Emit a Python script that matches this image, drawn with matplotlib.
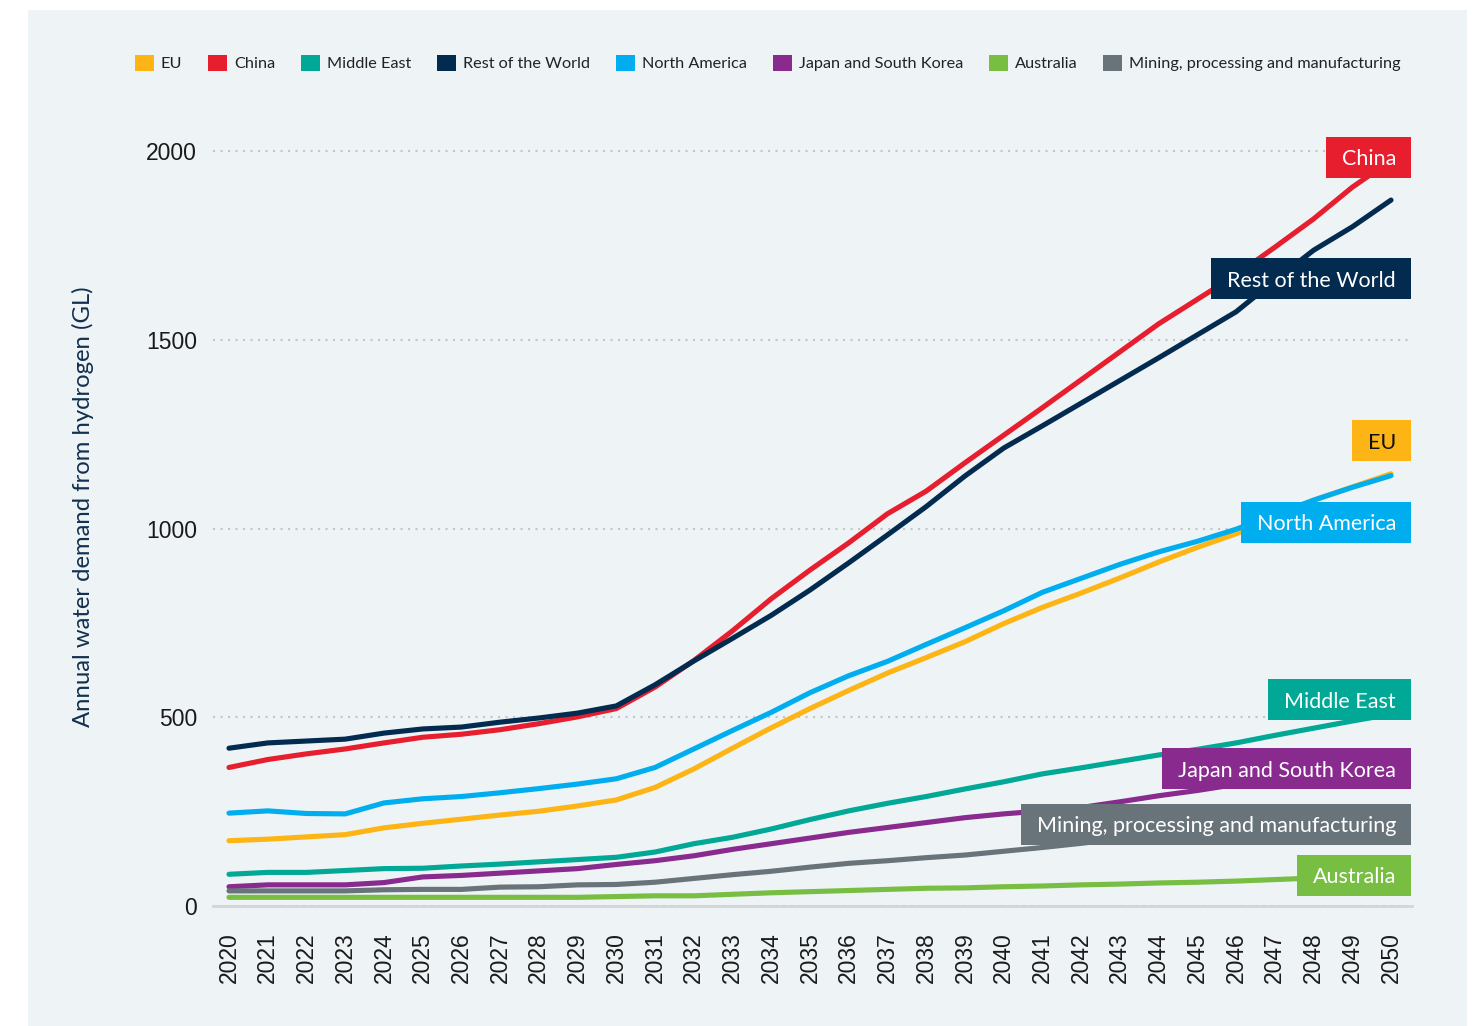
import matplotlib
matplotlib.use("Agg")
import matplotlib.pyplot as plt
from matplotlib.patches import Rectangle, Patch

# ---- data (GL per year) ----
years = list(range(2020, 2051))

eu = [173, 177, 183, 189, 207, 219, 230, 241, 251, 265, 281, 314, 363, 418, 472, 523,
      571, 617, 658, 700, 748, 791, 829, 869, 911, 950, 986, 1030, 1075, 1110, 1145]
china = [367, 388, 403, 416, 432, 447, 455, 467, 483, 501, 523, 580, 650, 729, 814, 890,
         962, 1039, 1099, 1174, 1247, 1320, 1394, 1468, 1542, 1607, 1672, 1745, 1820, 1904, 1975]
middle_east = [84, 89, 89, 94, 99, 100, 106, 111, 117, 123, 129, 143, 165, 182, 204, 229,
               252, 272, 290, 310, 329, 350, 366, 383, 400, 415, 432, 452, 471, 490, 508]
rest_of_world = [418, 432, 437, 442, 458, 469, 474, 487, 498, 511, 530, 586, 649, 709, 770, 837,
                 909, 983, 1058, 1139, 1213, 1272, 1332, 1392, 1452, 1513, 1574, 1657, 1737, 1799, 1870]
north_america = [246, 252, 245, 244, 273, 284, 290, 300, 311, 323, 337, 367, 416, 465, 513, 565,
                 610, 648, 693, 737, 782, 831, 868, 905, 938, 966, 998, 1037, 1075, 1109, 1140]
japan_korea = [51, 56, 56, 56, 62, 77, 81, 87, 93, 99, 110, 120, 133, 150, 165, 180,
               195, 208, 221, 234, 244, 252, 261, 276, 292, 306, 322, 340, 358, 378, 398]
australia = [23, 23, 23, 23, 23, 23, 23, 23, 23, 23, 25, 27, 27, 31, 35, 38,
             41, 44, 47, 48, 51, 53, 56, 58, 61, 63, 66, 70, 74, 78, 82]
mining = [40, 40, 40, 40, 43, 44, 44, 50, 51, 56, 57, 63, 73, 83, 92, 103,
          113, 120, 128, 135, 145, 155, 166, 178, 190, 202, 214, 226, 238, 250, 262]

names = ["EU", "China", "Middle East", "Rest of the World", "North America",
         "Japan and South Korea", "Australia", "Mining, processing and manufacturing"]
series = [eu, china, middle_east, rest_of_world, north_america, japan_korea, australia, mining]
colors = ["#fdb515", "#e61e2e", "#00a895", "#022b4f", "#00aeef", "#892a8e", "#77be43", "#68737a"]
text_colors = ["#111111"] + ["white"] * 7
# vertical position of the end-of-line label boxes (in data units)
label_y = [1232, 1984, 546, 1661, 1017, 363, 82, 217]

yticks = [0, 500, 1000, 1500, 2000]

# ---- figure ----
W, H = 1483, 1026
fig = plt.figure(figsize=(W / 100, H / 100), dpi=100)
fig.patch.set_facecolor("white")
fig.patches.append(Rectangle((28 / W, 0), (1467 - 28) / W, (1026 - 10) / H,
                             transform=fig.transFigure, facecolor="#eef3f6",
                             edgecolor="none", zorder=-1))

ax = fig.add_axes([213 / W, 1 - 906 / H, (1412 - 213) / W, (906 - 130) / H])
ax.set_facecolor("none")
px_year = (1391 - 229) / 30
ax.set_xlim(2020 - 16 / px_year, 2050 + 21 / px_year)
ax.set_ylim(0, 776 / (755 / 2000))

for vals, c in zip(series, colors):
    ax.plot(years, vals, color=c, lw=3.7, solid_capstyle="round",
            solid_joinstyle="round", zorder=3, clip_on=False)

# axes styling
for s in ["top", "right", "left"]:
    ax.spines[s].set_visible(False)
ax.spines["bottom"].set_color("#d2d6d9")
ax.spines["bottom"].set_linewidth(2.0)
ax.set_yticks(yticks)
ax.set_yticklabels([str(v) for v in yticks], family="Liberation Sans", fontsize=16.5, color="#1a1a1a")
ax.set_xticks(years)
ax.set_xticklabels([str(y) for y in years], rotation=90, family="Liberation Sans",
                   fontsize=16.5, color="#1a1a1a")
ax.tick_params(axis="both", length=0)
ax.tick_params(axis="y", pad=11.5)
ax.tick_params(axis="x", pad=19)
ax.grid(axis="y", color="#c2c6c9", lw=1.5, ls=(0, (1, 2.6)))
ax.set_axisbelow(True)

fig.text(83 / W, 1 - 507 / H, "Annual water demand from hydrogen (GL)", rotation=90,
         ha="center", va="center", family="Lato", fontsize=17.2, color="#12304f")

# legend
handles = [Patch(facecolor=c, edgecolor="none", label=n) for n, c in zip(names, colors)]
fig.legend(handles=handles, loc="center left", bbox_to_anchor=(135 / W, 1 - 63 / H),
           ncol=8, frameon=False, prop={"family": "Lato", "size": 11.7}, labelcolor="#222222",
           handlelength=1.17, handleheight=1.17, handletextpad=0.42, columnspacing=1.6,
           borderpad=0, borderaxespad=0)

# end-of-line labels in coloured boxes
x_text = 2020 + (1396 - 229) / px_year
texts = []
for n, tc, ly in zip(names, text_colors, label_y):
    t = ax.text(x_text, ly, n, ha="right", va="center_baseline", color=tc,
                family="Lato", fontsize=15.5, zorder=6, clip_on=False)
    texts.append(t)

fig.canvas.draw()
r = fig.canvas.get_renderer()
inv = ax.transData.inverted()
for t, c, ly in zip(texts, colors, label_y):
    bb = t.get_window_extent(r)
    cy = ax.transData.transform((2035, ly))[1]
    x0, y0 = inv.transform((bb.x0 - 16, cy - 20.5))
    x1, y1 = inv.transform((bb.x1 + 15, cy + 20.5))
    ax.add_patch(Rectangle((x0, y0), x1 - x0, y1 - y0, facecolor=c, edgecolor="none",
                           zorder=5, clip_on=False))

fig.savefig("out.png", dpi=100)
